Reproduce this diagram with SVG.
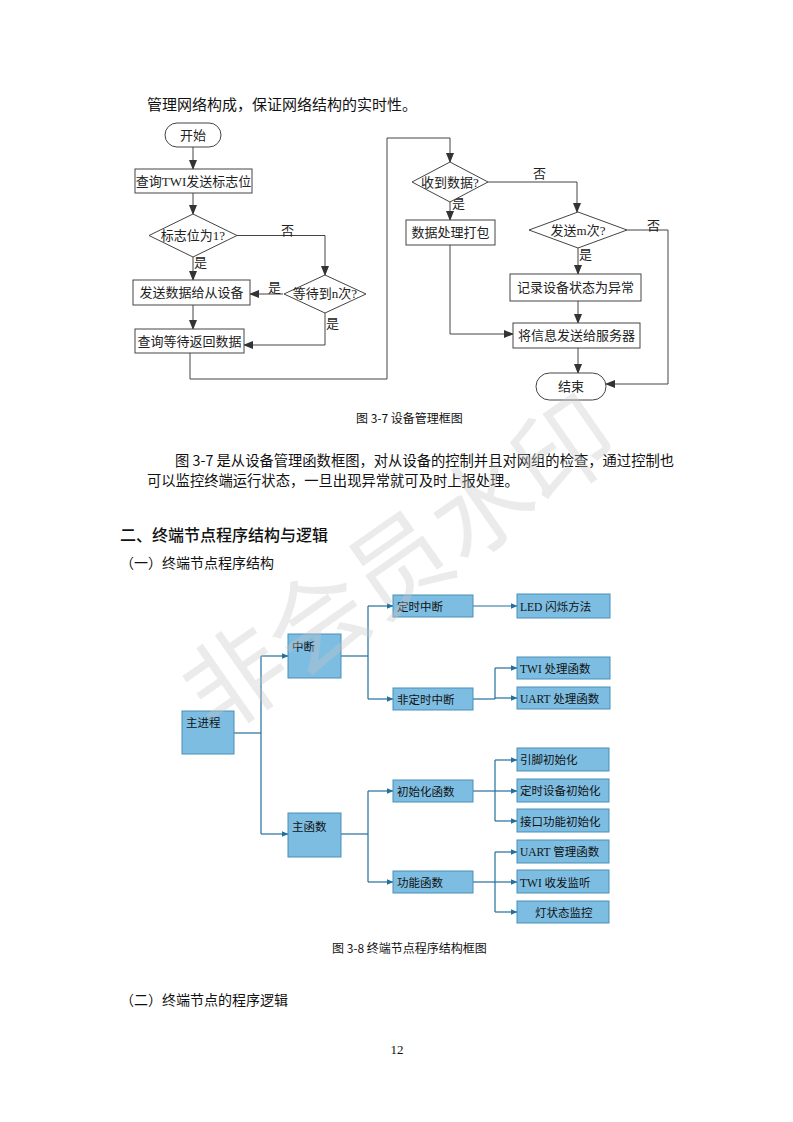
<svg xmlns="http://www.w3.org/2000/svg" width="793" height="1122" viewBox="0 0 793 1122">
<style>
.body{font-family:"Noto Sans CJK SC","Noto Sans",sans-serif;fill:#111}
.fc{font-family:"Liberation Serif","Noto Sans CJK SC",serif;font-size:13px;fill:#222}
.fcbox{fill:#fff;stroke:#444;stroke-width:1}
.fcl{fill:none;stroke:#444;stroke-width:1}
.tb{fill:#7dbde2;stroke:#4a8fb8;stroke-width:1}
.tt{font-family:"Liberation Serif","Noto Sans CJK SC",sans-serif;font-size:11.5px;fill:#111}
.tl{fill:none;stroke:#23709c;stroke-width:1.2}
.cap{font-family:"Noto Sans CJK SC",sans-serif;font-size:12px;fill:#111}
</style>
<defs>
<marker id="fa" markerWidth="10" markerHeight="8" refX="9" refY="4" orient="auto" markerUnits="userSpaceOnUse">
<path d="M0,0 L10,4 L0,8 Z" fill="#333"/>
</marker>
<marker id="ta" markerWidth="7" markerHeight="6" refX="6.5" refY="3" orient="auto" markerUnits="userSpaceOnUse">
<path d="M0,0 L7,3 L0,6 Z" fill="#23709c"/>
</marker>
</defs>
<rect width="793" height="1122" fill="#fff"/>

<text class="body" x="147" y="110" font-size="15">管理网络构成，保证网络结构的实时性。</text>

<!-- flowchart connectors -->
<g id="fc-connectors">
<path class="fcl" d="M193,147 V169" marker-end="url(#fa)"/>
<path class="fcl" d="M193,193 V214" marker-end="url(#fa)"/>
<path class="fcl" d="M237,235.5 H325 V275" marker-end="url(#fa)"/>
<path class="fcl" d="M193,257 V280" marker-end="url(#fa)"/>
<path class="fcl" d="M283,294 H250" marker-end="url(#fa)"/>
<path class="fcl" d="M325,313 V345 H244" marker-end="url(#fa)"/>
<path class="fcl" d="M193,305 V329" marker-end="url(#fa)"/>
<path class="fcl" d="M190,353 V379 H387 V138 H450 V162" marker-end="url(#fa)"/>
<path class="fcl" d="M488,182 H577 V212" marker-end="url(#fa)"/>
<path class="fcl" d="M450,202 V220" marker-end="url(#fa)"/>
<path class="fcl" d="M627,230 H668 V384 H606" marker-end="url(#fa)"/>
<path class="fcl" d="M578,248 V274" marker-end="url(#fa)"/>
<path class="fcl" d="M578,301 V323" marker-end="url(#fa)"/>
<path class="fcl" d="M450,245 V334 H513" marker-end="url(#fa)"/>
<path class="fcl" d="M578,348 V373" marker-end="url(#fa)"/>
<text class="fc" x="281" y="235">否</text>
<text class="fc" x="194" y="267">是</text>
<text class="fc" x="268" y="292">是</text>
<text class="fc" x="326" y="328">是</text>
<text class="fc" x="533" y="178">否</text>
<text class="fc" x="452" y="208">是</text>
<text class="fc" x="647" y="230">否</text>
<text class="fc" x="579" y="259">是</text>
</g>

<g id="start"><rect class="fcbox" x="165" y="123" width="56" height="24" rx="12"/><text class="fc" x="193" y="140" text-anchor="middle">开始</text></g>
<g id="query-flag"><rect class="fcbox" x="135" y="169" width="117" height="24"/><text class="fc" x="193.5" y="186" text-anchor="middle">查询TWI发送标志位</text></g>
<g id="flag1"><polygon class="fcbox" points="193,214 237,235.5 193,257 149,235.5"/><text class="fc" x="193" y="240" text-anchor="middle">标志位为1?</text></g>
<g id="send-data"><rect class="fcbox" x="133" y="280" width="117" height="25"/><text class="fc" x="191.5" y="297" text-anchor="middle">发送数据给从设备</text></g>
<g id="wait-n"><polygon class="fcbox" points="325,275 366,294 325,313 284,294"/><text class="fc" x="325" y="298" text-anchor="middle">等待到n次?</text></g>
<g id="query-return"><rect class="fcbox" x="135" y="329" width="109" height="24"/><text class="fc" x="189.5" y="346" text-anchor="middle">查询等待返回数据</text></g>
<g id="received"><polygon class="fcbox" points="450,162 488,182 450,202 412,182"/><text class="fc" x="450" y="187" text-anchor="middle">收到数据?</text></g>
<g id="pack"><rect class="fcbox" x="406" y="220" width="89" height="25"/><text class="fc" x="450.5" y="237" text-anchor="middle">数据处理打包</text></g>
<g id="send-m"><polygon class="fcbox" points="578,212 627,230 578,248 529,230"/><text class="fc" x="578" y="235" text-anchor="middle">发送m次?</text></g>
<g id="record"><rect class="fcbox" x="510" y="274" width="131" height="27"/><text class="fc" x="575.5" y="292" text-anchor="middle">记录设备状态为异常</text></g>
<g id="send-server"><rect class="fcbox" x="513" y="323" width="127" height="25"/><text class="fc" x="576.5" y="340" text-anchor="middle">将信息发送给服务器</text></g>
<g id="end"><rect class="fcbox" x="536" y="373" width="70" height="27" rx="13.5"/><text class="fc" x="571" y="391" text-anchor="middle">结束</text></g>

<text class="cap" x="356" y="423">图 3-7  设备管理框图</text>

<text class="body" x="175" y="466" font-size="14.3">图 3-7 是从设备管理函数框图，对从设备的控制并且对网组的检查，通过控制也</text>
<text class="body" x="147" y="486" font-size="14.3">可以监控终端运行状态，一旦出现异常就可及时上报处理。</text>

<text class="body" x="120" y="541" font-size="16" font-weight="500">二、终端节点程序结构与逻辑</text>
<text class="body" x="120" y="568" font-size="14">（一）终端节点程序结构</text>

<!-- tree connectors -->
<g id="tree-connectors">
<path class="tl" d="M234,733 H261"/>
<path class="tl" d="M261,656 V834"/>
<path class="tl" d="M261,656 H288" marker-end="url(#ta)"/>
<path class="tl" d="M261,834 H288" marker-end="url(#ta)"/>
<path class="tl" d="M341,656 H368"/>
<path class="tl" d="M368,606 V699"/>
<path class="tl" d="M368,606 H393" marker-end="url(#ta)"/>
<path class="tl" d="M368,699 H393" marker-end="url(#ta)"/>
<path class="tl" d="M473,606 H517" marker-end="url(#ta)"/>
<path class="tl" d="M473,699 H495"/>
<path class="tl" d="M495,668 V699"/>
<path class="tl" d="M495,668 H517" marker-end="url(#ta)"/>
<path class="tl" d="M495,698 H517" marker-end="url(#ta)"/>
<path class="tl" d="M341,834 H368"/>
<path class="tl" d="M368,791 V882"/>
<path class="tl" d="M368,791 H393" marker-end="url(#ta)"/>
<path class="tl" d="M368,882 H393" marker-end="url(#ta)"/>
<path class="tl" d="M473,791 H495"/>
<path class="tl" d="M495,760 V821"/>
<path class="tl" d="M495,760 H517" marker-end="url(#ta)"/>
<path class="tl" d="M495,791 H517" marker-end="url(#ta)"/>
<path class="tl" d="M495,821 H517" marker-end="url(#ta)"/>
<path class="tl" d="M473,882 H495" stroke-width="2"/>
<path class="tl" d="M495,852 V912"/>
<path class="tl" d="M495,852 H517" marker-end="url(#ta)"/>
<path class="tl" d="M495,882 H517" marker-end="url(#ta)"/>
<path class="tl" d="M495,912 H517" marker-end="url(#ta)"/>
</g>

<g id="main-process"><rect class="tb" x="182" y="711" width="52" height="43"/><text class="tt" x="186" y="727" font-size="12.5">主进程</text></g>
<g id="interrupt"><rect class="tb" x="288" y="634" width="53" height="44"/><text class="tt" x="292" y="651" font-size="12.5">中断</text></g>
<g id="main-func"><rect class="tb" x="288" y="813" width="53" height="44"/><text class="tt" x="292" y="831" font-size="12.5">主函数</text></g>
<g id="timer-int"><rect class="tb" x="393" y="595" width="80" height="22"/><text class="tt" x="397" y="611">定时中断</text></g>
<g id="nontimer-int"><rect class="tb" x="393" y="688" width="80" height="22"/><text class="tt" x="397" y="704">非定时中断</text></g>
<g id="led"><rect class="tb" x="517" y="594" width="93" height="24"/><text class="tt" x="520" y="611">LED 闪烁方法</text></g>
<g id="twi-handle"><rect class="tb" x="517" y="657" width="93" height="22"/><text class="tt" x="520" y="673">TWI 处理函数</text></g>
<g id="uart-handle"><rect class="tb" x="517" y="687" width="93" height="22"/><text class="tt" x="520" y="703">UART 处理函数</text></g>
<g id="init-func"><rect class="tb" x="393" y="780" width="80" height="22"/><text class="tt" x="397" y="796">初始化函数</text></g>
<g id="func-func"><rect class="tb" x="393" y="871" width="80" height="22"/><text class="tt" x="397" y="887">功能函数</text></g>
<g id="pin-init"><rect class="tb" x="517" y="748" width="92" height="23"/><text class="tt" x="520" y="764">引脚初始化</text></g>
<g id="timer-init"><rect class="tb" x="517" y="779" width="92" height="23"/><text class="tt" x="520" y="795">定时设备初始化</text></g>
<g id="iface-init"><rect class="tb" x="517" y="809" width="92" height="23"/><text class="tt" x="520" y="826">接口功能初始化</text></g>
<g id="uart-mgr"><rect class="tb" x="517" y="840" width="92" height="23"/><text class="tt" x="520" y="856">UART 管理函数</text></g>
<g id="twi-listen"><rect class="tb" x="517" y="870" width="92" height="23"/><text class="tt" x="520" y="887">TWI 收发监听</text></g>
<g id="light-mon"><rect class="tb" x="517" y="901" width="92" height="22"/><text class="tt" x="535" y="917">灯状态监控</text></g>

<text class="cap" x="332" y="953" font-size="12.5">图 3-8  终端节点程序结构框图</text>
<text class="body" x="120" y="1005" font-size="14">（二）终端节点的程序逻辑</text>
<text x="397" y="1054" font-family="Liberation Serif,serif" font-size="13" text-anchor="middle" fill="#111">12</text>

<text x="400" y="600" font-family="Noto Sans CJK SC,sans-serif" font-size="100" text-anchor="middle" fill="#c8c8c8" opacity="0.35" transform="rotate(-35 400 565)">非会员水印</text>
</svg>
